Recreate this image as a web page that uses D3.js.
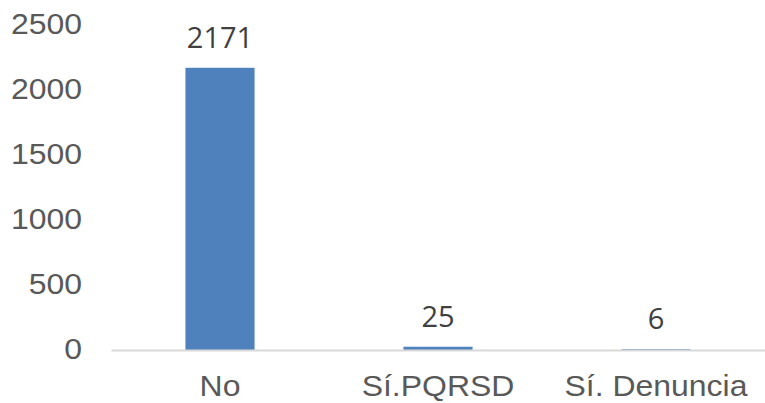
<!DOCTYPE html>
<html>
<head>
<meta charset="utf-8">
<script src="https://cdn.jsdelivr.net/npm/d3@7"></script>
<style>
  html, body { margin: 0; padding: 0; background: #ffffff; }
  svg { display: block; }
</style>
</head>
<body>
<svg id="chart" width="765" height="403"></svg>
<script>
const categories = ["No", "Sí.PQRSD", "Sí. Denuncia"];
const values = [2171, 25, 6];
const yTicks = [0, 500, 1000, 1500, 2000, 2500];

const svg = d3.select("#chart");
const plot = { left: 111, right: 765, top: 25, bottom: 350 };
const stretch = "scale(1.065,1)";

const x = d3.scaleBand()
  .domain(categories)
  .range([plot.left, plot.right])
  .paddingInner(0.683)
  .paddingOuter(0.3415);

const y = d3.scaleLinear()
  .domain([0, 2500])
  .range([plot.bottom, plot.top]);

// Y axis labels (no line, no ticks)
const yAxis = svg.append("g")
  .attr("transform", `translate(82,0)`)
  .call(d3.axisLeft(y).tickValues(yTicks).tickSize(0).tickPadding(0).tickFormat(d3.format("d")));
yAxis.select(".domain").remove();
yAxis.selectAll("text")
  .attr("x", 0)
  .attr("dy", "0.28em")
  .attr("text-anchor", "end")
  .attr("transform", stretch)
  .style("font-family", "'Liberation Sans', Arial, sans-serif")
  .style("font-size", "30px")
  .style("fill", "#595959");

// Bars
svg.append("g").selectAll("rect")
  .data(values)
  .join("rect")
  .attr("x", (d, i) => x(categories[i]))
  .attr("y", d => y(d))
  .attr("width", x.bandwidth())
  .attr("height", d => y(0) - y(d))
  .attr("fill", "#4f81bd");

// X axis
const xAxis = svg.append("g")
  .attr("transform", `translate(0,${plot.bottom})`)
  .call(d3.axisBottom(x).tickSize(0).tickPadding(0));
xAxis.select(".domain")
  .attr("stroke", "#d9d9d9")
  .attr("stroke-width", 2);
xAxis.selectAll("text")
  .attr("y", 46)
  .attr("dy", "0")
  .attr("transform", stretch)
  .style("font-family", "'Liberation Sans', Arial, sans-serif")
  .style("font-size", "30px")
  .style("fill", "#595959");

// Value labels
svg.append("g").selectAll("g")
  .data(values)
  .join("g")
  .attr("transform", (d, i) => `translate(${x(categories[i]) + x.bandwidth() / 2},${y(d) - 20})`)
  .append("text")
  .attr("text-anchor", "middle")
  .style("font-family", "'Open Sans', 'Noto Sans', sans-serif")
  .style("font-size", "29px")
  .style("fill", "#404040")
  .text(d => d);
</script>
</body>
</html>
